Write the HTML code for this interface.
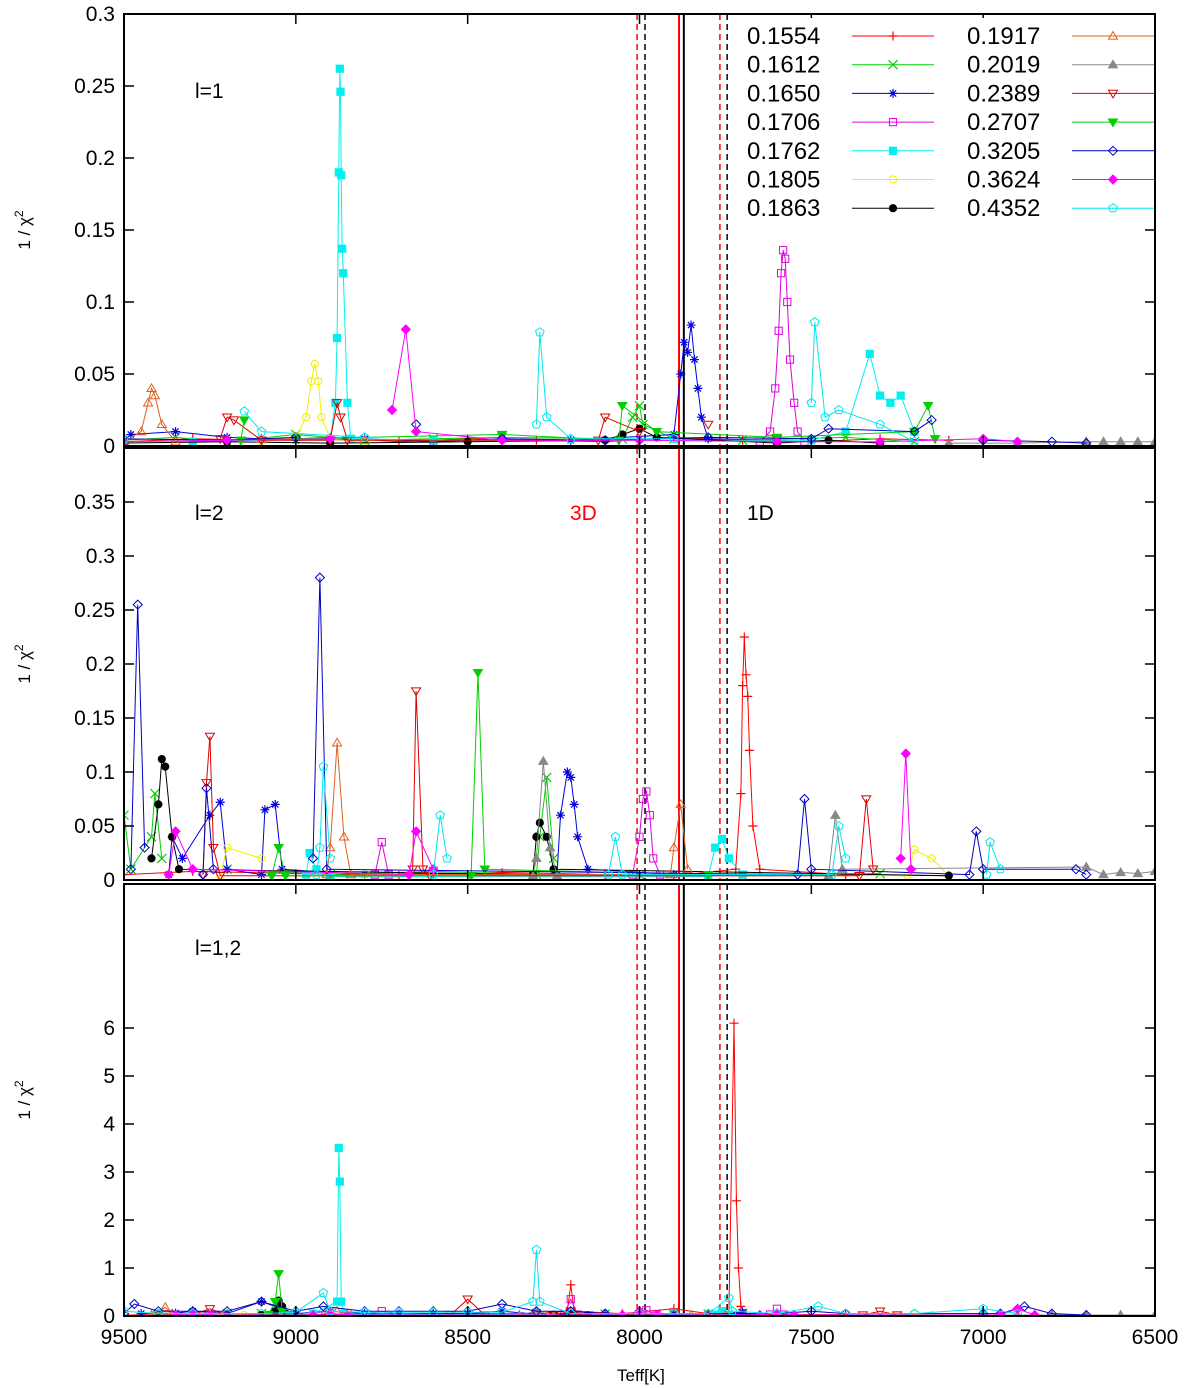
<!DOCTYPE html>
<html><head><meta charset="utf-8"><style>
html,body{margin:0;padding:0;background:#fff;}
svg{display:block;font-family:"Liberation Sans","DejaVu Sans",sans-serif;}
</style></head><body>
<svg id="chart" width="1200" height="1388" viewBox="0 0 1200 1388" xmlns="http://www.w3.org/2000/svg"></svg>
<script>
const seriesLabels=["0.1554","0.1612","0.1650","0.1706","0.1762","0.1805","0.1863","0.1917","0.2019","0.2389","0.2707","0.3205","0.3624","0.4352"];
const seriesColors=["#ff0000","#00d000","#0000e0","#e000e0","#00f0f0","#f0f000","#000000","#e06020","#888888","#e00000","#00d000","#0000c0","#ff00ff","#00e8f0"];
const seriesMarkers=["plus","cross","star","sqOpen","sqFill","circOpen","circFill","triOpen","triFill","tridOpen","tridFill","diaOpen","diaFill","pentOpen"];
const xTicks=[9500,9000,8500,8000,7500,7000,6500];
const panel1Ticks=[0,0.05,0.1,0.15,0.2,0.25,0.3];
const panel2Ticks=[0,0.05,0.1,0.15,0.2,0.25,0.3,0.35];
const panel3Ticks=[0,1,2,3,4,5,6];
const panel1Data=[
[9500,.003,9300,.005,9100,.004,8900,.006,8700,.003,8500,.005,8300,.004,8100,.003,7900,.006,7700,.004,7500,.003,7300,.005,7100,.004],
[9500,.004,9350,.006,9200,.003,9000,.008,8800,.004,8600,.005,8400,.006,8050,.005,8020,.02,8000,.028,7990,.015,7900,.005,7700,.004,7400,.006,7200,.003],
[9480,.008,9350,.01,9200,.006,9000,.004,8800,.005,8600,.003,8400,.005,8200,.004,7900,.008,7880,.05,7870,.072,7860,.065,7850,.084,7840,.06,7830,.04,7820,.02,7800,.005,7600,.004],
[7650,.003,7620,.01,7605,.04,7595,.08,7588,.12,7582,.136,7576,.13,7570,.1,7562,.06,7550,.03,7540,.01,7520,.003],
[9300,.003,8900,.005,8885,.03,8880,.075,8875,.19,8872,.262,8870,.246,8868,.188,8865,.137,8862,.12,8850,.03,8840,.005,8600,.004,7500,.004,7400,.01,7330,.064,7300,.035,7270,.03,7240,.035,7200,.01],
[9100,.003,9000,.006,8970,.02,8955,.045,8945,.057,8935,.045,8925,.02,8900,.005,8800,.003],
[9500,.002,9200,.003,8900,.002,8500,.003,8100,.004,8050,.008,8000,.012,7950,.006,7600,.002,7450,.004,7300,.002],
[9500,.003,9450,.01,9430,.03,9420,.04,9410,.035,9390,.015,9350,.003,9100,.005,8800,.004],
[7100,.002,6900,.002,6700,.003,6650,.003,6600,.003,6550,.003,6500,.003],
[9220,.005,9200,.02,9180,.018,9100,.004,8900,.004,8880,.03,8870,.02,8850,.004,8120,.004,8100,.02,8000,.01,7800,.015,7600,.005],
[9160,.004,9150,.018,9000,.005,8400,.008,8060,.004,8050,.028,7950,.01,7600,.006,7200,.01,7160,.028,7140,.005],
[9500,.005,9200,.004,9000,.006,8650,.015,8400,.005,8100,.004,7800,.006,7500,.005,7450,.012,7200,.01,7150,.018,7000,.004,6800,.003,6700,.002],
[9500,.003,9200,.004,8900,.005,8720,.025,8680,.081,8650,.01,8400,.004,8000,.004,7600,.003,7300,.003,7000,.005,6900,.003],
[9500,.005,9150,.024,9100,.01,8800,.006,8300,.015,8290,.079,8270,.02,8200,.005,7900,.005,7500,.03,7490,.086,7460,.02,7420,.025,7300,.015,7200,.003]
];
const panel2Data=[
[9500,.005,9300,.008,9000,.006,8700,.004,8400,.007,8100,.005,7900,.004,7720,.01,7705,.08,7700,.18,7695,.225,7690,.19,7685,.17,7680,.12,7670,.05,7650,.01,7400,.005,7100,.004],
[9500,.06,9480,.01,9420,.04,9410,.08,9390,.02,9200,.01,8900,.005,8600,.008,8300,.005,8290,.04,8270,.095,8250,.02,8000,.005,7700,.004,7300,.006],
[9370,.005,9360,.04,9330,.02,9250,.06,9220,.072,9200,.01,9100,.005,9090,.065,9060,.07,9040,.01,8800,.005,8600,.006,8240,.005,8230,.06,8210,.1,8200,.095,8190,.07,8180,.04,8150,.01,7900,.005],
[8770,.005,8750,.035,8730,.005,8020,.005,8000,.04,7990,.075,7980,.082,7970,.06,7960,.02,7940,.005],
[8970,.005,8960,.025,8940,.01,8900,.003,7800,.003,7780,.03,7760,.038,7740,.02,7700,.005],
[9220,.004,9200,.03,9100,.02,8800,.005,7220,.004,7200,.028,7150,.02,7100,.004],
[9420,.02,9400,.07,9390,.112,9380,.105,9360,.04,9340,.01,8310,.005,8300,.04,8290,.053,8270,.04,8250,.01,7100,.004],
[8910,.005,8900,.03,8880,.127,8860,.04,8840,.005,7910,.005,7900,.03,7880,.07,7860,.01],
[8310,.004,8300,.02,8280,.11,8260,.03,8240,.004,7450,.004,7430,.06,7410,.01,6700,.012,6650,.005,6600,.007,6550,.006,6500,.008],
[9270,.005,9260,.09,9250,.133,9240,.03,9220,.004,8670,.004,8660,.01,8650,.175,8630,.01,8610,.004,7360,.004,7340,.075,7320,.01],
[9070,.004,9050,.03,9030,.004,8490,.004,8470,.192,8450,.01,7800,.005],
[9480,.01,9460,.255,9440,.03,9270,.005,9260,.085,9240,.01,8950,.02,8930,.28,8910,.01,7540,.005,7520,.075,7500,.01,7040,.005,7020,.045,7000,.01,6730,.01,6700,.005],
[9370,.005,9350,.045,9300,.01,8670,.005,8650,.045,8600,.01,7240,.02,7225,.117,7210,.01],
[8940,.005,8930,.03,8920,.105,8900,.02,8600,.005,8580,.06,8560,.02,8090,.005,8070,.04,8050,.005,7440,.005,7420,.05,7400,.02,6990,.005,6980,.035,6950,.01]
];
const panel3Data=[
[9500,.02,9200,.04,8900,.03,8600,.05,8300,.05,8210,.1,8200,.65,8190,.1,8050,.05,7900,.15,7800,.05,7740,.05,7725,6.1,7718,2.4,7712,1.0,7705,.2,7690,.05,7600,.03,7400,.03],
[9400,.05,9300,.04,9200,.05,9100,.05,9000,.03,8900,.04,8800,.04,8700,.03,8600,.03,8500,.03,8400,.04,8300,.05,8200,.03,8100,.04,8000,.03,7900,.03,7800,.04,7700,.05],
[9450,.05,9350,.06,9300,.1,9200,.05,9100,.3,9000,.05,8900,.1,8800,.05,8700,.04,8600,.05,8500,.05,8400,.1,8300,.04,8200,.05,8100,.04,8000,.05,7900,.05,7800,.04,7700,.08],
[8800,.03,8750,.1,8700,.03,8220,.03,8200,.35,8180,.03,8000,.03,7980,.12,7950,.03,7620,.03,7600,.15,7580,.03],
[8950,.05,8880,.3,8875,3.5,8872,2.8,8868,.3,8860,.05,8800,.03,7780,.03,7760,.1,7740,.03],
[9250,.02,9200,.05,9150,.02,8950,.02,8900,.05,8850,.02,7250,.02,7200,.04,7150,.02],
[9100,.02,9060,.1,9050,.32,9040,.2,9030,.05,9000,.02,8250,.02,8200,.05,8150,.02],
[9420,.02,9380,.18,9360,.05,9300,.02,8920,.02,8880,.1,8840,.02,7850,.02,7800,.05,7750,.02],
[8350,.02,8300,.1,8250,.02,7000,.02,6900,.02,6800,.02,6700,.02,6600,.02,6500,.02],
[9300,.02,9250,.15,9200,.02,8550,.02,8500,.35,8450,.02,8250,.02,8200,.1,8150,.02,7350,.02,7300,.1,7250,.02],
[9080,.03,9060,.3,9050,.88,9040,.1,9020,.03],
[9500,.05,9470,.25,9400,.1,9300,.1,9200,.1,9100,.3,9000,.1,8920,.2,8800,.1,8700,.1,8600,.1,8500,.1,8400,.25,8300,.1,8200,.1,8100,.05,7600,.05,7500,.1,7400,.05,7000,.05,6950,.05,6880,.2,6800,.05,6700,.02],
[9350,.02,9300,.05,9250,.02,8950,.02,8900,.05,8850,.02,8050,.02,8000,.1,7950,.02,7650,.02,7600,.05,7550,.02,6950,.02,6900,.15,6850,.02],
[9500,.1,9400,.05,9300,.05,9200,.05,9100,.05,9000,.08,8920,.48,8900,.1,8800,.08,8700,.08,8600,.08,8500,.08,8400,.08,8310,.3,8300,1.38,8290,.3,8200,.05,8000,.05,7900,.05,7800,.05,7740,.38,7730,.1,7600,.05,7480,.2,7400,.05,7200,.05,7000,.15,6900,.05]
];
const vLinesSolid=[[7885,"#ff0000"],[7871,"#000000"]];
const vLinesDashed=[[8007,"#ff0000"],[7766,"#ff0000"],[7984,"#000000"],[7745,"#000000"]];

const NS="http://www.w3.org/2000/svg";
const svg=document.getElementById("chart");
const X0=124,X1=1155;
const GAP=130;
function xs(t){return X0+(9500-t)/3000*(X1-X0);}
function mk(tag,attrs,parent){const e=document.createElementNS(NS,tag);for(const k in attrs)e.setAttribute(k,attrs[k]);(parent||svg).appendChild(e);return e;}
const panels=[
 {name:"panel-l1",top:14,bot:446,max:0.3,ticks:panel1Ticks,data:panel1Data,fmt:v=>v===0?"0":String(v)},
 {name:"panel-l2",top:448,bot:880,max:0.4,ticks:panel2Ticks,data:panel2Data,fmt:v=>v===0?"0":String(v)},
 {name:"panel-l12",top:884,bot:1316,max:9,ticks:panel3Ticks,data:panel3Data,fmt:v=>String(v)}
];
function marker(g,type,x,y,c,s){
 s=s||4.5;
 let e;
 if(type==="plus"){e=mk("path",{d:`M${x-s} ${y}H${x+s}M${x} ${y-s}V${y+s}`,stroke:c,"stroke-width":1.2,fill:"none"},g);}
 else if(type==="cross"){e=mk("path",{d:`M${x-s} ${y-s}L${x+s} ${y+s}M${x-s} ${y+s}L${x+s} ${y-s}`,stroke:c,"stroke-width":1.2,fill:"none"},g);}
 else if(type==="star"){e=mk("path",{d:`M${x-s} ${y}H${x+s}M${x} ${y-s}V${y+s}M${x-s*.7} ${y-s*.7}L${x+s*.7} ${y+s*.7}M${x-s*.7} ${y+s*.7}L${x+s*.7} ${y-s*.7}`,stroke:c,"stroke-width":1.2,fill:"none"},g);}
 else if(type==="sqOpen"||type==="sqFill"){e=mk("rect",{x:x-s*.8,y:y-s*.8,width:s*1.6,height:s*1.6,stroke:c,fill:type==="sqFill"?c:"none","stroke-width":1},g);}
 else if(type==="circOpen"||type==="circFill"){e=mk("circle",{cx:x,cy:y,r:s*.8,stroke:c,fill:type==="circFill"?c:"none","stroke-width":1},g);}
 else if(type==="triOpen"||type==="triFill"){e=mk("path",{d:`M${x} ${y-s}L${x+s} ${y+s*.7}L${x-s} ${y+s*.7}Z`,stroke:c,fill:type==="triFill"?c:"none","stroke-width":1},g);}
 else if(type==="tridOpen"||type==="tridFill"){e=mk("path",{d:`M${x} ${y+s}L${x+s} ${y-s*.7}L${x-s} ${y-s*.7}Z`,stroke:c,fill:type==="tridFill"?c:"none","stroke-width":1},g);}
 else if(type==="diaOpen"||type==="diaFill"){e=mk("path",{d:`M${x} ${y-s}L${x+s} ${y}L${x} ${y+s}L${x-s} ${y}Z`,stroke:c,fill:type==="diaFill"?c:"none","stroke-width":1},g);}
 else {e=mk("path",{d:`M${x} ${y-s}L${x+s*.95} ${y-s*.3}L${x+s*.6} ${y+s*.8}L${x-s*.6} ${y+s*.8}L${x-s*.95} ${y-s*.3}Z`,stroke:c,fill:"none","stroke-width":1},g);}
 return e;
}
mk("defs",{}).innerHTML=panels.map((p,i)=>`<clipPath id="clip${i}"><rect x="${X0}" y="${p.top}" width="${X1-X0}" height="${p.bot-p.top}"/></clipPath>`).join("");
panels.forEach((p,pi)=>{
 const ys=v=>p.bot-v/p.max*(p.bot-p.top);
 const g=mk("g",{"clip-path":`url(#clip${pi})`});
 
 
 vLinesDashed.forEach(v=>{const l=mk("line",{x1:xs(v[0]),x2:xs(v[0]),y1:p.top,y2:p.bot,stroke:v[1],"stroke-width":1.5,"stroke-dasharray":"6,4"},g);
  
  });
 vLinesSolid.forEach(v=>{const l=mk("line",{x1:xs(v[0]),x2:xs(v[0]),y1:p.top,y2:p.bot,stroke:v[1],"stroke-width":2},g);
  
  });
 p.data.forEach((arr,si)=>{
  const c=seriesColors[si];
  const sg=mk("g",{},g);
  
  
  let d="";
  for(let i=0;i<arr.length;i+=2){
   const brk=i===0||(arr[i-2]-arr[i])>GAP&&(arr[i-1]>p.max*0.04||arr[i+1]>p.max*0.04);
   d+=(brk?"M":"L")+xs(arr[i]).toFixed(1)+" "+ys(arr[i+1]).toFixed(1);}
  mk("path",{d:d,stroke:c,fill:"none","stroke-width":1},sg);
  for(let i=0;i<arr.length;i+=2){const m=marker(sg,seriesMarkers[si],xs(arr[i]),ys(arr[i+1]),c);
   
   }
 });
 const f=mk("rect",{x:X0,y:p.top,width:X1-X0,height:p.bot-p.top,fill:"none",stroke:"#000","stroke-width":2});
 
 
 p.ticks.forEach(t=>{
  const y=ys(t);
  mk("line",{x1:X0,x2:X0+10,y1:y,y2:y,stroke:"#000","stroke-width":1.5});
  mk("line",{x1:X1-10,x2:X1,y1:y,y2:y,stroke:"#000","stroke-width":1.5});
  const tx=mk("text",{x:X0-9,y:y+7,"text-anchor":"end","font-size":21});
  tx.textContent=p.fmt(t);
  
  
 });
 xTicks.forEach(t=>{
  const x=xs(t);
  mk("line",{x1:x,x2:x,y1:p.bot-10,y2:p.bot,stroke:"#000","stroke-width":1.5});
  mk("line",{x1:x,x2:x,y1:p.top,y2:p.top+10,stroke:"#000","stroke-width":1.5});
 });
 const yt=mk("text",{x:0,y:0,"font-size":17,"text-anchor":"middle",transform:`translate(30,${(p.top+p.bot)/2}) rotate(-90)`});
 yt.innerHTML='1 / χ<tspan dy="-7" font-size="12">2</tspan>';
 
 
});
xTicks.forEach(t=>{
 const tx=mk("text",{x:xs(t),y:1344,"text-anchor":"middle","font-size":21});
 tx.textContent=String(t);
 
 
});
function label(txt,x,y,size,color,name){const t=mk("text",{x:x,y:y,"font-size":size,fill:color});t.textContent=txt;
 
 }
label("Teff[K]",617,1381,17,"#000","x-axis-title");
label("l=1",195,98,21,"#000","panel-label-l1");
label("l=2",195,520,21,"#000","panel-label-l2");
label("3D",570,520,21,"#ff0000","label-3d");
label("1D",747,520,21,"#000","label-1d");
label("l=1,2",195,955,21,"#000","panel-label-l12");
const lg=mk("g",{});


mk("rect",{x:740,y:18,width:414,height:200,fill:"#fff"},lg);
seriesLabels.forEach((s,i)=>{
 const col=Math.floor(i/7),row=i%7;
 const tx=col?967:747,lx=col?1072:852,y=36+row*28.7;
 const eg=mk("g",{},lg);
 
 
 const t=mk("text",{x:tx,y:y+8,"font-size":24},eg);t.textContent=s;
 mk("line",{x1:lx,x2:lx+82,y1:y,y2:y,stroke:seriesColors[i],"stroke-width":1},eg);
 marker(eg,seriesMarkers[i],lx+41,y,seriesColors[i]);
});
</script>
</body></html>
